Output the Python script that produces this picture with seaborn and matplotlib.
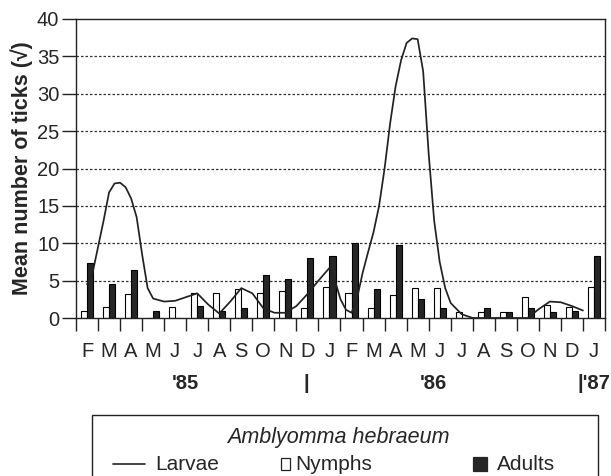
import pandas as pd
import seaborn as sns
import numpy as np
import matplotlib.pyplot as plt
from matplotlib.patches import Rectangle
from matplotlib.lines import Line2D
import matplotlib.transforms as mtransforms

months = ['F', 'M', 'A', 'M', 'J', 'J', 'A', 'S', 'O', 'N', 'D', 'J',
          'F', 'M', 'A', 'M', 'J', 'J', 'A', 'S', 'O', 'N', 'D', 'J']
nymphs = [1.0, 1.5, 3.2, 0.0, 1.5, 3.3, 3.4, 3.9, 3.3, 3.6, 1.4, 4.1,
          3.4, 1.4, 3.1, 4.0, 4.0, 0.8, 0.8, 0.8, 2.8, 1.7, 1.5, 4.2]
adults = [7.4, 4.5, 6.4, 1.0, 0.0, 1.6, 1.0, 1.4, 5.7, 5.2, 8.0, 8.3,
          10.1, 3.9, 9.8, 2.5, 1.3, 0.0, 1.3, 0.8, 1.3, 0.8, 0.9, 8.3]
# larvae curve (x in months from February 1985)
larvae_x = [0, 0.25, 0.5, 0.75, 1.0, 1.25, 1.5, 1.75, 2.0, 2.25, 2.5, 2.75,
            3.0, 3.5, 4.0, 4.5, 5.0, 5.5, 6.0, 6.5, 7.0, 7.5, 8.0, 8.5,
            9.0, 9.5, 10.0, 10.5, 11.0, 11.25, 11.5, 11.75, 12.0, 12.25, 12.5, 12.75,
            13.0, 13.25, 13.5, 13.75, 14.0, 14.25, 14.5, 14.75, 15.0, 15.25, 15.5, 15.75,
            16.0, 16.25, 16.5, 17.0, 17.5, 18.0, 19.0, 20.0, 20.5, 21.0, 21.5, 22.0, 22.5]
larvae = [4.5, 6.0, 9.5, 13.0, 16.8, 18.0, 18.1, 17.5, 16.0, 13.5, 8.5, 4.0,
          2.6, 2.2, 2.3, 2.8, 3.3, 1.8, 0.6, 2.2, 4.0, 3.3, 1.3, 0.7,
          0.7, 1.6, 3.2, 5.0, 6.7, 5.0, 2.5, 1.1, 0.7, 2.6, 6.0, 8.8,
          11.5, 15.0, 20.0, 26.0, 31.0, 34.5, 36.8, 37.4, 37.3, 33.0, 22.0, 13.0,
          7.5, 4.0, 2.0, 0.5, 0.0, 0.0, 0.0, 0.0, 1.2, 2.2, 2.1, 1.6, 1.0]
years = ["'85", "|", "'86", "|'87"]
year_pos = [4.45, 9.95, 15.7, 23.75]

sns.set_style('ticks')
plt.rcParams['font.family'] = ['Liberation Sans', 'DejaVu Sans']

n = len(months)
df = pd.DataFrame({
    'month': list(range(n)) * 2,
    'stage': ['Nymphs'] * n + ['Adults'] * n,
    'value': nymphs + adults,
})

fig = plt.figure(figsize=(6.11, 4.76), dpi=100)
ax = fig.add_axes([76 / 611, 1 - 318 / 476, (605 - 76) / 611, (318 - 19) / 476])

for v in range(5, 40, 5):
    ax.axhline(v, color='#333333', lw=0.9, ls=(0, (2, 1.6)), zorder=0)

sns.barplot(data=df, x='month', y='value', hue='stage',
            hue_order=['Nymphs', 'Adults'],
            palette={'Nymphs': 'white', 'Adults': '#262626'},
            edgecolor='black', linewidth=0.8, width=0.55,
            errorbar=None, legend=False, ax=ax, zorder=2)
sns.lineplot(x=larvae_x, y=larvae, color='#222222', lw=1.25, ax=ax, zorder=3)

ax.set_xlim(-0.5, n - 0.5)
ax.set_ylim(0, 40)
ax.set_yticks(range(0, 41, 5))
ax.set_xticks(range(n))
ax.set_xticklabels(months, fontsize=14.5)
ax.set_xticks(np.arange(-0.5, n), minor=True)
ax.tick_params(axis='x', which='major', length=0, pad=17)
ax.tick_params(axis='x', which='minor', length=9.5, width=1, color='#222222')
ax.tick_params(axis='y', length=10, width=1, labelsize=14.5, pad=2, color='#222222')
for s in ax.spines.values():
    s.set_visible(True)
    s.set_linewidth(1.0)
    s.set_color('#222222')
ax.set_xlabel('')
ax.set_ylabel('Mean number of ticks (√)', fontsize=15.5, fontweight='bold', labelpad=3)

trans = mtransforms.blended_transform_factory(ax.transData, ax.transAxes)
for lab, xp in zip(years, year_pos):
    ax.text(xp, -0.22, lab, transform=trans, ha='right' if lab.startswith("|'") else 'center',
            va='center', fontsize=14.5, fontweight='bold', clip_on=False)

# legend box below the plot
fig.add_artist(Rectangle((92 / 611, -0.1), (598 - 92) / 611, 0.1 + 1 - 415 / 476,
                         transform=fig.transFigure, fill=False, lw=1.0, ec='#222222'))
fig.text(338 / 611, 1 - 437 / 476, 'Amblyomma hebraeum', style='italic',
         fontsize=15.5, ha='center', va='center')
ly = 1 - 464 / 476
fig.add_artist(Line2D([113 / 611, 145 / 611], [ly, ly], transform=fig.transFigure,
                      color='#222222', lw=1.2))
fig.text(155 / 611, ly, 'Larvae', fontsize=15, va='center')
fig.add_artist(Rectangle((281 / 611, ly - 6 / 476), 9 / 611, 12 / 476,
                         transform=fig.transFigure, fc='white', ec='#222222', lw=0.9))
fig.text(295 / 611, ly, 'Nymphs', fontsize=15, va='center')
fig.add_artist(Rectangle((473 / 611, ly - 7 / 476), 14 / 611, 14 / 476,
                         transform=fig.transFigure, fc='#262626', ec='#262626', lw=0.9))
fig.text(497 / 611, ly, 'Adults', fontsize=15, va='center')

fig.savefig('out.png', dpi=100)
